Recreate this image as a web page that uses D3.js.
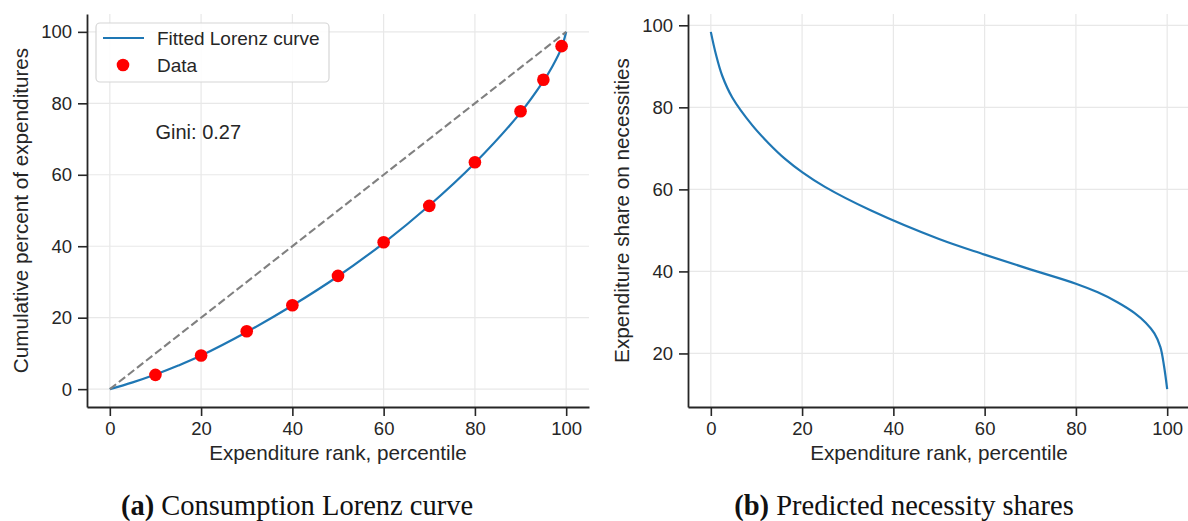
<!DOCTYPE html>
<html>
<head>
<meta charset="utf-8">
<script src="https://cdn.jsdelivr.net/npm/d3@7"></script>
<style>
  html, body { margin: 0; padding: 0; background: #fff; }
  svg { display: block; }
  .tick text { font-family: "Liberation Sans", Arial, sans-serif; fill: #262626; }
</style>
</head>
<body>
<svg id="chart" width="1188" height="521"></svg>
<script>
// Panel (a): consumption Lorenz curve
const lorenzX = [0, 5, 10, 15, 20, 30, 40, 50, 60, 70, 80, 90, 95, 97, 99, 100];
const lorenzY = [0, 1.9, 4.1, 6.6, 9.4, 16.0, 23.4, 31.6, 40.9, 51.4, 63.3, 77.4, 86.2, 90.4, 95.6, 100];
const dataX = [10, 20, 30, 40, 50, 60, 70, 80, 90, 95, 99];
const dataY = [4.0, 9.4, 16.2, 23.5, 31.7, 41.1, 51.3, 63.5, 77.8, 86.6, 96.0];
const equalityX = [0, 100];
const equalityY = [0, 100];
const giniLabel = "Gini: 0.27";

// Panel (b): predicted necessity shares
const shareX = [0, 1.1, 2.5, 4.7, 9.1, 12.7, 16.4, 20, 25, 35, 50, 60, 70, 80, 84.8, 89.1, 92.8, 95.3, 97.2, 98.5, 99.3, 100];
const shareY = [98.4, 93.0, 87.7, 82.4, 75.6, 71.2, 67.3, 64.2, 60.6, 54.9, 47.9, 44.1, 40.5, 37.0, 34.9, 32.5, 29.9, 27.5, 24.9, 21.6, 17.0, 11.3];

const xTicks = [0, 20, 40, 60, 80, 100];
const yTicksA = [0, 20, 40, 60, 80, 100];
const yTicksB = [20, 40, 60, 80, 100];

const svg = d3.select("#chart");
const plotTop = 14, plotBottom = 407;
const blue = "#1f77b4";
const ink = "#262626";

// pad a [min,max] extent by 5% like matplotlib does
function padded(ext) {
    const p = (ext[1] - ext[0]) * 0.05;
    return [ext[0] - p, ext[1] + p];
}

function drawAxes(g, x, y, yTicks, xLabel, yLabel, left, right) {
    // grid
    g.append("g").selectAll("line").data(xTicks).join("line")
        .attr("x1", d => x(d)).attr("x2", d => x(d))
        .attr("y1", plotTop).attr("y2", plotBottom)
        .attr("stroke", "#e8e8e8").attr("stroke-width", 1.2);
    g.append("g").selectAll("line").data(yTicks).join("line")
        .attr("x1", left).attr("x2", right)
        .attr("y1", d => y(d)).attr("y2", d => y(d))
        .attr("stroke", "#e8e8e8").attr("stroke-width", 1.2);

    const xAxis = g.append("g")
        .attr("transform", `translate(0,${plotBottom})`)
        .call(d3.axisBottom(x).tickValues(xTicks).tickSize(9).tickPadding(6).tickSizeOuter(0));
    const yAxis = g.append("g")
        .attr("transform", `translate(${left},0)`)
        .call(d3.axisLeft(y).tickValues(yTicks).tickSize(9).tickPadding(6).tickSizeOuter(0));
    [xAxis, yAxis].forEach(a => {
        a.select(".domain").attr("stroke", ink).attr("stroke-width", 1.8);
        a.selectAll(".tick line").attr("stroke", ink).attr("stroke-width", 1.6);
        a.selectAll(".tick text").attr("font-size", 18.5).attr("fill", ink);
    });

    g.append("text")
        .attr("x", (left + right) / 2).attr("y", 460)
        .attr("text-anchor", "middle")
        .attr("font-family", "Liberation Sans, Arial, sans-serif")
        .attr("font-size", 20.7).attr("fill", ink)
        .text(xLabel);
    g.append("text")
        .attr("transform", `translate(${left - 59},${(plotTop + plotBottom) / 2}) rotate(-90)`)
        .attr("text-anchor", "middle")
        .attr("font-family", "Liberation Sans, Arial, sans-serif")
        .attr("font-size", 20.7).attr("fill", ink)
        .text(yLabel);
}

function caption(cx, bold, rest) {
    const t = svg.append("text")
        .attr("x", cx).attr("y", 515)
        .attr("text-anchor", "middle")
        .attr("font-family", "Liberation Serif, Times New Roman, serif")
        .attr("font-size", 28.5).attr("fill", "#111");
    t.append("tspan").attr("font-weight", "bold").text(bold);
    t.append("tspan").text(" " + rest);
}

// ---------- Panel (a) ----------
{
    const left = 87, right = 589;
    const x = d3.scaleLinear().domain(padded([0, 100])).range([left, right]);
    const y = d3.scaleLinear().domain(padded([0, 100])).range([plotBottom, plotTop]);
    const g = svg.append("g");
    drawAxes(g, x, y, yTicksA, "Expenditure rank, percentile", "Cumulative percent of expenditures", left, right);

    const line = d3.line().x(d => x(d[0])).y(d => y(d[1]));

    g.append("path")
        .datum(d3.zip(lorenzX, lorenzY))
        .attr("fill", "none").attr("stroke", blue).attr("stroke-width", 2.2)
        .attr("d", line.curve(d3.curveCatmullRom.alpha(0.5)));

    g.append("g").selectAll("circle").data(d3.zip(dataX, dataY)).join("circle")
        .attr("cx", d => x(d[0])).attr("cy", d => y(d[1])).attr("r", 6.3)
        .attr("fill", "#ff0000");

    g.append("path")
        .datum(d3.zip(equalityX, equalityY))
        .attr("fill", "none").attr("stroke", "#808080").attr("stroke-width", 2.1)
        .attr("stroke-dasharray", "8,3.5")
        .attr("d", d3.line().x(d => x(d[0])).y(d => y(d[1])));

    g.append("text")
        .attr("x", x(10)).attr("y", y(70))
        .attr("font-family", "Liberation Sans, Arial, sans-serif")
        .attr("font-size", 20).attr("fill", ink)
        .text(giniLabel);

    // legend
    const lg = g.append("g");
    lg.append("rect")
        .attr("x", 96).attr("y", 23).attr("width", 233).attr("height", 59)
        .attr("rx", 4).attr("fill", "rgba(255,255,255,0.85)")
        .attr("stroke", "#d6d6d6").attr("stroke-width", 1.2);
    lg.append("line")
        .attr("x1", 103).attr("x2", 144).attr("y1", 38).attr("y2", 38)
        .attr("stroke", blue).attr("stroke-width", 2.2);
    lg.append("circle").attr("cx", 123).attr("cy", 65).attr("r", 6.3).attr("fill", "#ff0000");
    lg.selectAll("text.lab").data(["Fitted Lorenz curve", "Data"]).join("text")
        .attr("x", 157).attr("y", (d, i) => 44.5 + i * 27)
        .attr("font-family", "Liberation Sans, Arial, sans-serif")
        .attr("font-size", 19).attr("fill", ink)
        .text(d => d);

    caption(297, "(a)", "Consumption Lorenz curve");
}

// ---------- Panel (b) ----------
{
    const left = 688, right = 1190;
    const x = d3.scaleLinear().domain(padded([0, 100])).range([left, right]);
    const y = d3.scaleLinear().domain(padded(d3.extent(shareY))).range([plotBottom, plotTop]);
    const g = svg.append("g");
    drawAxes(g, x, y, yTicksB, "Expenditure rank, percentile", "Expenditure share on necessities", left, right);

    g.append("path")
        .datum(d3.zip(shareX, shareY))
        .attr("fill", "none").attr("stroke", blue).attr("stroke-width", 2.2)
        .attr("d", d3.line().x(d => x(d[0])).y(d => y(d[1])).curve(d3.curveCatmullRom.alpha(0.5)));

    caption(904, "(b)", "Predicted necessity shares");
}
</script>
</body>
</html>
